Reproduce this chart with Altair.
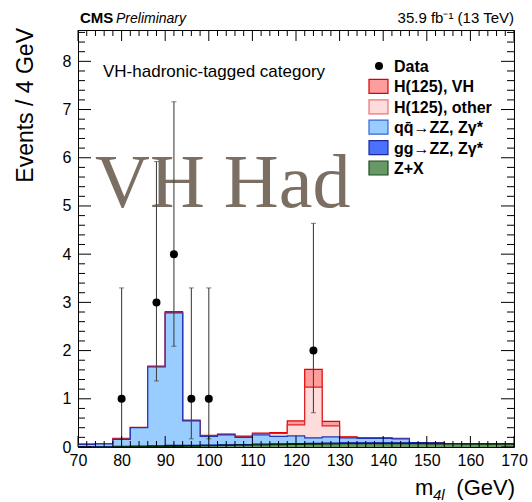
import altair as alt
import pandas as pd

# ---------------- data ----------------
bin_low = list(range(70, 170, 4))          # 25 bins of 4 GeV
zx      = [0.0, 0.0, 0.005, 0.01, 0.01, 0.015, 0.02, 0.03, 0.035, 0.04, 0.045, 0.05, 0.055,
           0.06, 0.065, 0.07, 0.07, 0.07, 0.07, 0.07, 0.065, 0.065, 0.06, 0.06, 0.06]
gg      = [0.005, 0.005, 0.008, 0.01, 0.015, 0.02, 0.015, 0.012, 0.012, 0.012, 0.013, 0.013, 0.014,
           0.015, 0.015, 0.015, 0.015, 0.015, 0.014, 0.01, 0.01, 0.005, 0.005, 0.005, 0.005]
qq      = [0.05, 0.06, 0.147, 0.38, 1.635, 2.745, 0.505, 0.178, 0.203, 0.148, 0.192, 0.157, 0.161,
           0.115, 0.13, 0.105, 0.095, 0.095, 0.086, 0.01, 0.01, 0.0, 0.0, 0.0, 0.0]
h_other = [0.002, 0.003, 0.01, 0.005, 0.01, 0.01, 0.01, 0.01, 0.01, 0.015, 0.03, 0.06, 0.23,
           1.05, 0.23, 0.015, 0.01, 0.01, 0.005, 0.0, 0.0, 0.0, 0.0, 0.0, 0.0]
h_vh    = [0.003, 0.002, 0.01, 0.005, 0.01, 0.02, 0.01, 0.01, 0.01, 0.01, 0.01, 0.02, 0.08,
           0.37, 0.09, 0.005, 0.005, 0.005, 0.005, 0.0, 0.0, 0.0, 0.0, 0.0, 0.0]

data_x  = [80, 88, 92, 96, 100, 124]
data_y  = [1, 3, 4, 1, 1, 2]
data_lo = [0.17, 1.37, 2.09, 0.17, 0.17, 0.71]
data_hi = [3.30, 5.92, 7.16, 3.30, 3.30, 4.64]

x_major = list(range(70, 171, 10))
x_minor = [v for v in range(70, 171, 2) if v % 10 != 0]
y_major = list(range(0, 9))
y_minor = [round(v * 0.2, 1) for v in range(0, 44) if v % 5 != 0]

legend_items = ["Data", "H(125), VH", "H(125), other", "qq\u0304\u2192ZZ, Z\u03b3*", "gg\u2192ZZ, Z\u03b3*", "Z+X"]

# ---------------- build stacked step table ----------------
edges = bin_low + [170]
def ext(a):
    return a + [a[-1]]
c_zx, c_gg, c_qq, c_oth, c_vh = [], [], [], [], []
for i in range(len(bin_low)):
    s1 = zx[i]
    s2 = s1 + gg[i]
    s3 = s2 + qq[i]
    s4 = s3 + h_other[i]
    s5 = s4 + h_vh[i]
    c_zx.append(round(s1, 4)); c_gg.append(round(s2, 4)); c_qq.append(round(s3, 4))
    c_oth.append(round(s4, 4)); c_vh.append(round(s5, 4))
hist = pd.DataFrame({"edge": edges, "zx": ext(c_zx), "gg": ext(c_gg), "qq": ext(c_qq),
                     "oth": ext(c_oth), "vh": ext(c_vh)})
pts = pd.DataFrame({"x": data_x, "y": data_y, "lo": data_lo, "hi": data_hi})

W, H = 436, 417
FONT = "Liberation Sans"
xs = alt.Scale(domain=[70, 170], nice=False, zero=False)
ys = alt.Scale(domain=[0, 8.65], nice=False, zero=False)
xax = alt.Axis(values=x_major, ticks=False, domain=False, grid=False, labelFontSize=16,
               labelFont=FONT, labelColor="black", labelPadding=5, title=None,
               labelOverlap=False, labelFlush=False, format="d")
yax = alt.Axis(values=y_major, ticks=False, domain=False, grid=False, labelFontSize=16,
               labelFont=FONT, labelColor="black", labelPadding=7, title=None,
               labelOverlap=False, labelFlush=False, format="d")

def X(f):
    return alt.X(f, scale=xs, axis=xax)
def Y(f):
    return alt.Y(f, scale=ys, axis=yax, stack=None)

layers = []

# watermark
layers.append(alt.Chart(pd.DataFrame({"t": ["VH Had"]})).mark_text(
    font="Liberation Serif", fontSize=76, color="#7a6f62", align="left", baseline="alphabetic"
).encode(x=alt.value(17), y=alt.value(177), text="t:N"))

layers.append(alt.Chart(pd.DataFrame({"t": ["VH-hadronic-tagged category"]})).mark_text(
    font=FONT, fontSize=17, color="black", align="left", baseline="alphabetic"
).encode(x=alt.value(25), y=alt.value(47), text="t:N"))

# stacked histograms (largest first)
styles = [("vh", "#ff9c9c", "#e00000"), ("oth", "#ffdcdc", "#dd2020"),
          ("qq", "#99ccff", "#2233bb"), ("gg", "#4d70ff", "#000099"),
          ("zx", "#669966", "#003300")]
for f, fill, stroke in styles:
    base = alt.Chart(hist).encode(x=X("edge:Q"), y=Y(f + ":Q"))
    layers.append(base.mark_area(interpolate="step-after", color=fill, opacity=1))
    layers.append(base.mark_line(interpolate="step-after", color=stroke, strokeWidth=1.2))

# data points
pbase = alt.Chart(pts)
layers.append(pbase.mark_rule(color="#444444", strokeWidth=1.1).encode(
    x=X("x:Q"), y=Y("lo:Q"), y2="hi:Q"))
layers.append(pbase.mark_tick(orient="horizontal", size=5, thickness=1, color="#444444").encode(
    x=X("x:Q"), y=Y("lo:Q")))
layers.append(pbase.mark_tick(orient="horizontal", size=5, thickness=1, color="#444444").encode(
    x=X("x:Q"), y=Y("hi:Q")))
layers.append(pbase.mark_circle(size=64, color="black", opacity=1).encode(
    x=X("x:Q"), y=Y("y:Q")))

# inward ticks on all four sides
def tick_layers(vals, axis, length):
    df = pd.DataFrame({"t": vals})
    c = alt.Chart(df).mark_rule(color="black", strokeWidth=1)
    if axis == "x":
        return [c.encode(x=X("t:Q"), y=alt.value(H), y2=alt.value(H - length)),
                c.encode(x=X("t:Q"), y=alt.value(0), y2=alt.value(length))]
    return [c.encode(y=Y("t:Q"), x=alt.value(0), x2=alt.value(length)),
            c.encode(y=Y("t:Q"), x=alt.value(W), x2=alt.value(W - length))]

layers += tick_layers(x_major, "x", 11)
layers += tick_layers(x_minor, "x", 6)
layers += tick_layers(y_major, "y", 13)
layers += tick_layers(y_minor, "y", 7)

# legend
row_y = [36 + 20.4 * i for i in range(len(legend_items))]
leg_fill = [None, "#ff9c9c", "#ffdcdc", "#99ccff", "#4d70ff", "#669966"]
leg_stroke = [None, "#e00000", "#f07070", "#3366dd", "#1b2a9a", "#1f4a1f"]
one = pd.DataFrame({"a": [0]})
for i, lab in enumerate(legend_items):
    if i == 0:
        layers.append(alt.Chart(one).mark_circle(size=64, color="black", opacity=1).encode(
            x=alt.value(301), y=alt.value(row_y[i])))
    else:
        layers.append(alt.Chart(one).mark_rect(fill=leg_fill[i], stroke=leg_stroke[i],
                                               strokeWidth=1.2).encode(
            x=alt.value(291), x2=alt.value(310), y=alt.value(row_y[i] - 7), y2=alt.value(row_y[i] + 7)))
    layers.append(alt.Chart(pd.DataFrame({"t": [lab]})).mark_text(
        font=FONT, fontSize=16, fontWeight="bold", color="black", align="left", baseline="middle"
    ).encode(x=alt.value(316), y=alt.value(row_y[i] + 1), text="t:N"))

# titles
def txt(s, x, y, size, align="left", weight="normal", style="normal", angle=None, baseline="alphabetic"):
    kw = dict(font=FONT, fontSize=size, fontWeight=weight, fontStyle=style, color="black",
              align=align, baseline=baseline)
    if angle is not None:
        kw["angle"] = angle
    return alt.Chart(pd.DataFrame({"t": [s]})).mark_text(**kw).encode(
        x=alt.value(x), y=alt.value(y), text="t:N")

layers.append(txt("Events / 4 GeV", -45, -2, 23, align="right", angle=270))
layers.append(txt("m", 337, 465, 22))
layers.append(txt("4l", 355, 470, 15, style="italic"))
layers.append(txt("(GeV)", 437, 465, 22, align="right"))
layers.append(txt("CMS", 2, -7, 15, weight="bold"))
layers.append(txt("Preliminary", 38, -7, 14, style="italic"))
layers.append(txt("35.9 fb\u207b\u00b9 (13 TeV)", 436, -7, 15, align="right"))

chart = alt.layer(*layers).properties(
    width=W, height=H,
    autosize=alt.AutoSizeParams(type="none"),
    padding={"left": 78, "top": 30, "right": 18, "bottom": 55},
    background="white",
).configure_view(stroke="black", strokeWidth=1)

chart.save("out.html", embed_options={"renderer": "svg", "actions": False})
